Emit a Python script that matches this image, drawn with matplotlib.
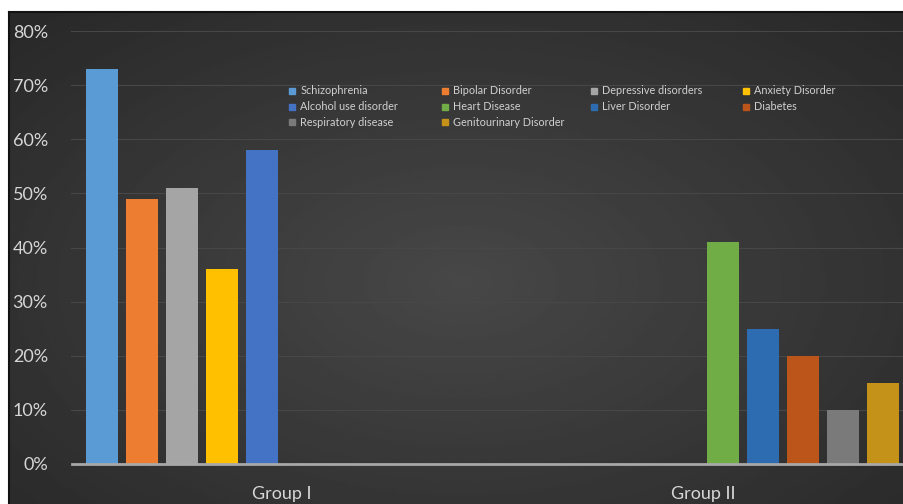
import numpy as np
import matplotlib
matplotlib.use('Agg')
import matplotlib.pyplot as plt
from matplotlib.lines import Line2D

plt.rcParams['font.family'] = ['Lato', 'DejaVu Sans']

# data
groups = ['Group I', 'Group II']
series = ['Schizophrenia', 'Bipolar Disorder', 'Depressive disorders', 'Anxiety Disorder',
          'Alcohol use disorder', 'Heart Disease', 'Liver Disorder', 'Diabetes',
          'Respiratory disease', 'Genitourinary Disorder']
group1 = [0.73, 0.49, 0.51, 0.36, 0.58, 0, 0, 0, 0, 0]
group2 = [0, 0, 0, 0, 0, 0.41, 0.25, 0.20, 0.10, 0.15]
colors = ['#5b9bd5', '#ed7d31', '#a5a5a5', '#ffc000', '#4472c4',
          '#70ad47', '#2d6cb0', '#bb5519', '#7a7a7a', '#c49218']
yticks = [0, 0.1, 0.2, 0.3, 0.4, 0.5, 0.6, 0.7, 0.8]

W, H = 904, 504
fig = plt.figure(figsize=(W / 100, H / 100), dpi=100, facecolor='white')

# dark background with soft radial glow
bg = fig.add_axes([9 / W, 0, 1, (H - 12) / H])
yy, xx = np.mgrid[0:1:200j, 0:1:360j]
r = np.sqrt(((xx - 0.5) / 0.7) ** 2 + ((yy - 0.45) / 0.75) ** 2)
glow = 0.16 + 0.12 * np.clip(1 - r, 0, 1)
bg.imshow(glow, cmap='gray', vmin=0, vmax=1, aspect='auto',
          extent=[0, 1, 0, 1], origin='lower')
bg.set_xticks([])
bg.set_yticks([])
for s in ['right', 'bottom']:
    bg.spines[s].set_visible(False)
for s in ['left', 'top']:
    bg.spines[s].set_color('#111111')
    bg.spines[s].set_linewidth(1.5)

ax = fig.add_axes([71.5 / W, 40 / H, 1 - 71.5 / W, 433 / H])
ax.patch.set_alpha(0)

x = np.arange(len(groups))
slot = 0.095
for i, name in enumerate(series):
    vals = [group1[i], group2[i]]
    ax.bar(x + (i - 4.5) * slot, vals, width=slot * 0.8, color=colors[i],
           label=name, zorder=3)

ax.set_xlim(-0.5, 1.477)
ax.set_ylim(0, 0.8)
ax.set_yticks(yticks)
ax.set_yticklabels(['%d%%' % round(v * 100) for v in yticks])
ax.set_xticks(x)
ax.set_xticklabels(groups)
ax.tick_params(axis='y', length=0, pad=17, labelsize=13, labelcolor='#d6d6d6')
ax.tick_params(axis='x', length=0, pad=16, labelsize=13, labelcolor='#d6d6d6')
ax.grid(axis='y', color='#474747', linewidth=0.8, zorder=0)
for s in ['top', 'right', 'left']:
    ax.spines[s].set_visible(False)
ax.spines['bottom'].set_color('#a8a8a8')
ax.spines['bottom'].set_linewidth(2)
ax.spines['bottom'].set_zorder(4)

# legend: 4 columns laid out row by row
cols = [[0, 4, 8], [1, 5, 9], [2, 6], [3, 7]]
col_x = [283, 436, 585, 737]
for cx, idx in zip(col_x, cols):
    handles = [Line2D([], [], marker='s', linestyle='none', markersize=4.5,
                      color=colors[k]) for k in idx]
    leg = fig.legend(handles, [series[k] for k in idx], loc='upper left',
                     bbox_to_anchor=(cx / W, 1 - 80 / H), frameon=False,
                     fontsize=7.8, labelcolor='#d0d0d0', handlelength=0.6,
                     handletextpad=0.5, labelspacing=0.45, borderpad=0)

fig.savefig('out.png', dpi=100, facecolor='white')
